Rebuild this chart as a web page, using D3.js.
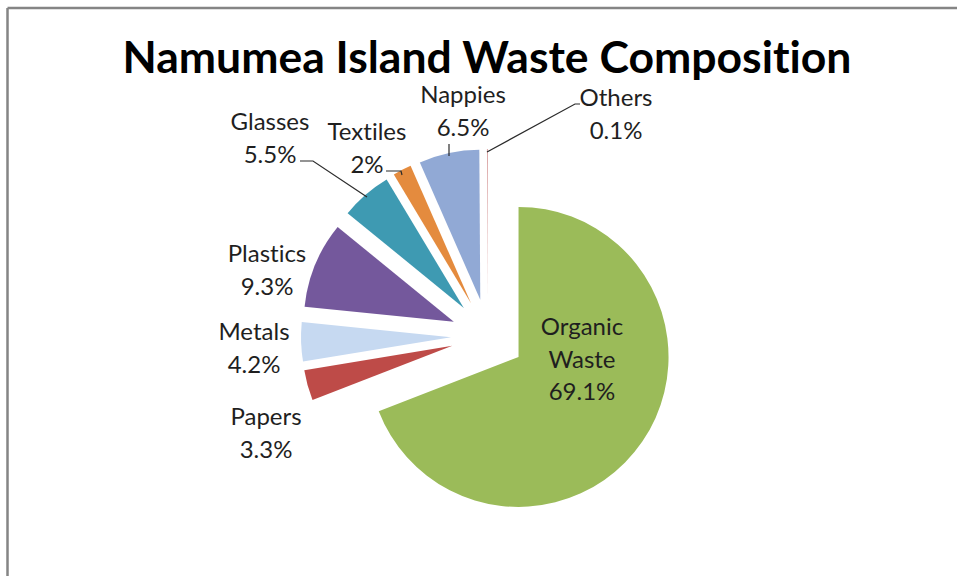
<!DOCTYPE html>
<html>
<head>
<meta charset="utf-8">
<script src="https://cdn.jsdelivr.net/npm/d3@7/dist/d3.min.js"></script>
<style>
  html, body { margin: 0; padding: 0; background: #fff; }
  svg { display: block; }
  text { font-variant-ligatures: none; font-feature-settings: "liga" 0; }
</style>
</head>
<body>
<svg id="chart" width="957" height="576"></svg>
<script>
// ---- data ----
const categories = ["Organic Waste", "Papers", "Metals", "Plastics", "Glasses", "Textiles", "Nappies", "Others"];
const values = [69.1, 3.3, 4.2, 9.3, 5.5, 2, 6.5, 0.1];
const valueLabels = ["69.1%", "3.3%", "4.2%", "9.3%", "5.5%", "2%", "6.5%", "0.1%"];
const colors = ["#9BBB59", "#BE4B48", "#C6D9F1", "#74589C", "#3E9AB2", "#E48B3E", "#91A9D5", "#D9A0A0"];
const title = "Namumea Island Waste Composition";

// ---- layout (label positions: center x, first baseline y) ----
const labelLines = [["Organic", "Waste", "69.1%"], ["Papers", "3.3%"], ["Metals", "4.2%"], ["Plastics", "9.3%"],
                    ["Glasses", "5.5%"], ["Textiles", "2%"], ["Nappies", "6.5%"], ["Others", "0.1%"]];
const labelPos = [[582, 335], [266, 425], [254, 340], [267, 262], [270, 130], [367, 140], [463, 103], [616, 106]];
const leaders = [null, null, null, null,
                 [[300, 161], [313, 161], [367, 197]],
                 [[386, 171], [401, 171], [402, 175]],
                 [[449, 156], [449, 144]],
                 [[487, 152], [575, 104], [580, 104]]];

const svg = d3.select("#chart");
const W = 957, H = 576;
const cx = 488, cy = 336, R = 150, explode = 37;

// frame
svg.append("line").attr("x1", 7.5).attr("y1", 8).attr("x2", W).attr("y2", 8)
  .attr("stroke", "#858585").attr("stroke-width", 2.5);
svg.append("line").attr("x1", 7.5).attr("y1", 8).attr("x2", 7.5).attr("y2", H)
  .attr("stroke", "#858585").attr("stroke-width", 2.5);

// title
svg.append("text").attr("x", 487).attr("y", 73).attr("text-anchor", "middle")
  .attr("font-family", "Lato, 'Open Sans', sans-serif").attr("font-weight", "bold")
  .attr("font-size", 44.5).attr("fill", "#000").text(title);

const pie = d3.pie().sort(null).value(d => d)(values);
const arc = d3.arc().innerRadius(0).outerRadius(R);

const g = svg.append("g").attr("transform", `translate(${cx},${cy})`);
g.selectAll("path").data(pie).join("path")
  .attr("d", arc)
  .attr("fill", (d, i) => colors[i])
  .attr("transform", d => {
    const m = (d.startAngle + d.endAngle) / 2;
    return `translate(${explode * Math.sin(m)},${-explode * Math.cos(m)})`;
  });

// leader lines
leaders.forEach(pts => {
  if (!pts) return;
  svg.append("path").attr("d", d3.line()(pts)).attr("fill", "none")
    .attr("stroke", "#2b2b2b").attr("stroke-width", 1.2);
});

// labels
const lineH = 32.5;
labelLines.forEach((lines, i) => {
  const t = svg.append("text").attr("text-anchor", "middle")
    .attr("font-family", "Lato, 'Open Sans', sans-serif").attr("font-size", 24).attr("fill", "#1f1f1f");
  lines.forEach((s, k) => {
    t.append("tspan").attr("x", labelPos[i][0]).attr("y", labelPos[i][1] + k * lineH).text(s);
  });
});
</script>
</body>
</html>
